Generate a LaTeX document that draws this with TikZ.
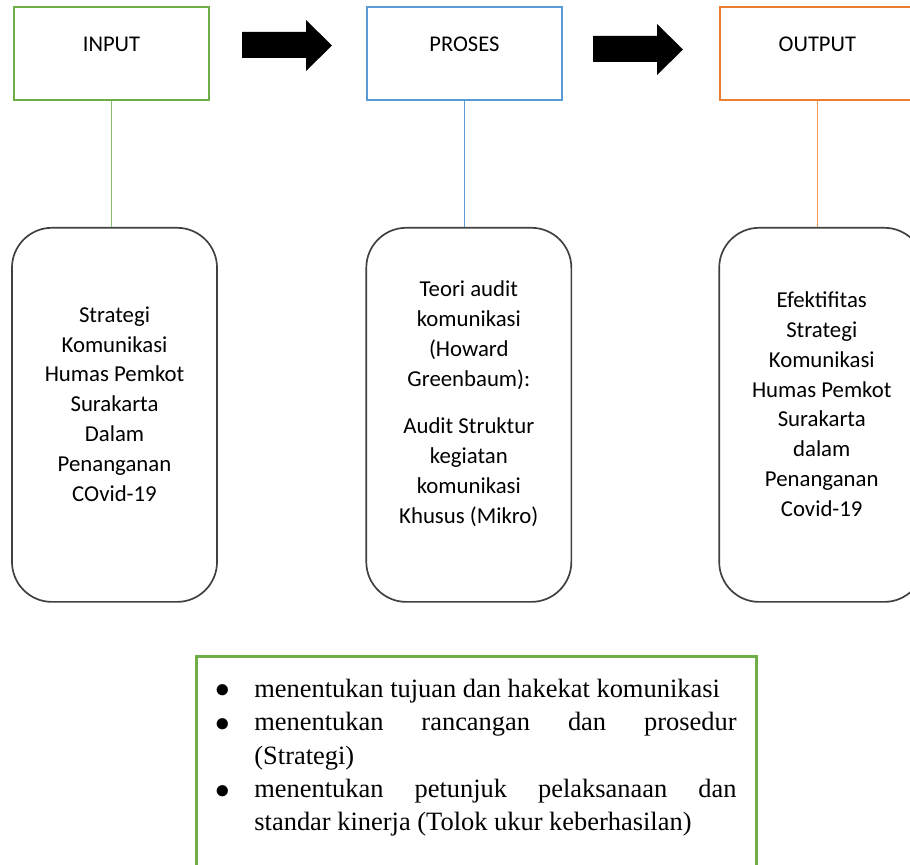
\documentclass[tikz,border=0pt]{standalone}
\usepackage{fontspec}
\setmainfont{Carlito}
\newfontfamily\timesfont{Liberation Serif}
\usepackage{enumitem}
\usetikzlibrary{positioning}
\definecolor{hijau}{RGB}{112,173,71}
\definecolor{biru}{RGB}{91,155,213}
\definecolor{oranye}{RGB}{237,125,49}
\definecolor{abu}{RGB}{64,64,64}

\begin{document}
\begin{tikzpicture}[x=0.025cm, y=-0.025cm,
                    kotaknode/.style={rectangle, line width=1.3pt, minimum width=4.875cm, minimum height=2.325cm,
                                      text height=0.4cm, text depth=0.475cm, font=\fontsize{16}{21.3}\selectfont},
                    isinode/.style={rectangle, rounded corners=1cm, draw=abu, line width=1.2pt, minimum width=5.125cm,
                                    minimum height=9.35cm, align=center, font=\fontsize{16.2}{21.3}\selectfont},
                    garis/.style={line width=0.9pt},]
    \clip (0,0) rectangle (910,865);
    % kotak atas
    \node[kotaknode, draw=hijau]   (input)  at (111.5,53.5)          {INPUT};
    \node[kotaknode, draw=biru]    (proses) [right=3.9cm of input]   {PROSES};
    \node[kotaknode, draw=oranye]  (output) [right=3.9cm of proses]  {OUTPUT};
    % kotak isi
    \node[isinode] (isiA) [below=3.15cm of input, xshift=0.075cm]  {Strategi\\Komunikasi\\Humas Pemkot\\Surakarta\\Dalam\\Penanganan\\COvid-19\\[-6pt]\mbox{}};
    \node[isinode] (isiB) [below=3.15cm of proses, xshift=0.11cm] {Teori audit\\komunikasi\\(Howard\\Greenbaum):\\[0.425cm]Audit Struktur\\kegiatan\\komunikasi\\Khusus (Mikro)\\[-3pt]\mbox{}};
    \node[isinode] (isiC) [below=3.15cm of output, xshift=0.11cm] {Efektifitas\\Strategi\\Komunikasi\\Humas Pemkot\\Surakarta\\dalam\\Penanganan\\Covid-19\\[-6pt]\mbox{}};
    % lines
    \draw[garis, hijau!80]  (input.south)  -- (input.south |- isiA.north);
    \draw[garis, biru]      (proses.south) -- (proses.south |- isiB.north);
    \draw[garis, oranye!80] (output.south) -- (output.south |- isiC.north);
    % panah blok
    \foreach \px/\py in {242/32, 593/36}
        \fill[black] (\px,\py) -- ++(64,0) -- ++(0,-12) -- ++(26,25.5) -- ++(-26,25.5) -- ++(0,-13) -- ++(-64,0) -- cycle;
    % daftar bawah
    \node[draw=hijau, line width=2pt, anchor=north west, inner xsep=0pt, inner ysep=0.18cm, text width=14cm, align=justify,
          font=\timesfont\fontsize{18.8}{23.8}\selectfont] (daftar) at (195,655) {%
        \begin{itemize}[label=\raisebox{-0.03em}{\scalebox{1.2}{$\bullet$}}, leftmargin=1.45cm, labelsep=0.62cm,
                        rightmargin=0.5cm, itemsep=0pt, parsep=0pt, topsep=0pt, partopsep=0pt]
            \item menentukan tujuan dan hakekat komunikasi
            \item menentukan rancangan dan prosedur\linebreak (Strategi)
            \item menentukan petunjuk pelaksanaan dan\linebreak standar kinerja (Tolok ukur keberhasilan)
        \end{itemize}\par\rule{0pt}{1.5cm}};
\end{tikzpicture}
\end{document}
